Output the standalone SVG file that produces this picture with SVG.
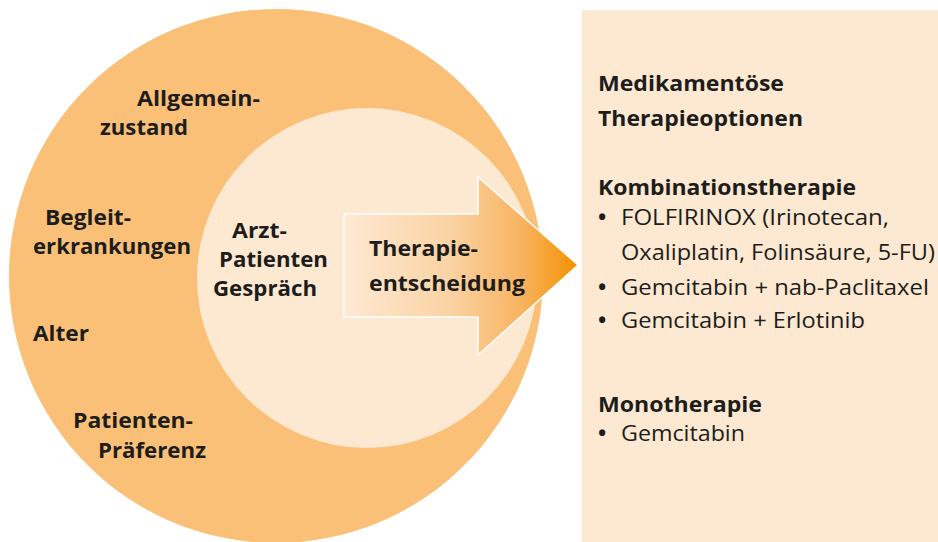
<svg xmlns="http://www.w3.org/2000/svg" width="938" height="542" viewBox="0 0 938 542">
<style>
.b{font-family:"Open Sans","Noto Sans","DejaVu Sans",sans-serif;font-weight:bold;font-size:21.5px;fill:#1d1d1b}
.r{font-family:"Open Sans","Noto Sans","DejaVu Sans",sans-serif;font-size:22px;fill:#1d1d1b}
.d{font-family:"Open Sans","Noto Sans","DejaVu Sans",sans-serif;font-weight:bold;font-size:22px;fill:#1d1d1b}
</style>
<defs>
<linearGradient id="ag" x1="344" y1="0" x2="578" y2="0" gradientUnits="userSpaceOnUse">
<stop offset="0" stop-color="#fde9d2"/>
<stop offset="0.45" stop-color="#fbd3a4"/>
<stop offset="0.75" stop-color="#f8b462"/>
<stop offset="1" stop-color="#f39200"/>
</linearGradient>
</defs>
<rect width="938" height="542" fill="#ffffff"/>
<g id="outer-circle">
<circle cx="276" cy="276" r="267" fill="#fbc078"/>
<text class="b" x="137" y="106" textLength="123" lengthAdjust="spacingAndGlyphs">Allgemein-</text>
<text class="b" x="100" y="135" textLength="88" lengthAdjust="spacingAndGlyphs">zustand</text>
<text class="b" x="45" y="225" textLength="86" lengthAdjust="spacingAndGlyphs">Begleit-</text>
<text class="b" x="33" y="254" textLength="158" lengthAdjust="spacingAndGlyphs">erkrankungen</text>
<text class="b" x="33" y="341" textLength="56" lengthAdjust="spacingAndGlyphs">Alter</text>
<text class="b" x="73" y="428" textLength="120" lengthAdjust="spacingAndGlyphs">Patienten-</text>
<text class="b" x="98" y="458" textLength="108" lengthAdjust="spacingAndGlyphs">Präferenz</text>
</g>
<g id="inner-circle">
<circle cx="367" cy="278" r="170" fill="#fde9d2"/>
<text class="b" x="232" y="238" textLength="55" lengthAdjust="spacingAndGlyphs">Arzt-</text>
<text class="b" x="219" y="267" textLength="109" lengthAdjust="spacingAndGlyphs">Patienten</text>
<text class="b" x="213" y="296" textLength="104" lengthAdjust="spacingAndGlyphs">Gespräch</text>
</g>
<g id="connectors">
<g id="arrow">
<polygon points="344,214 478,214 478,177 578,265 478,355 478,317 344,317" fill="url(#ag)" stroke="#ffffff" stroke-width="1.5"/>
<text class="b" x="369" y="256" textLength="109" lengthAdjust="spacingAndGlyphs">Therapie-</text>
<text class="b" x="369" y="291" textLength="156" lengthAdjust="spacingAndGlyphs">entscheidung</text>
</g>
</g>
<g id="panel">
<rect x="582" y="10" width="356" height="532" fill="#fde9d2"/>
<text class="b" x="598" y="91" textLength="186" lengthAdjust="spacingAndGlyphs">Medikamentöse</text>
<text class="b" x="598" y="126" textLength="205" lengthAdjust="spacingAndGlyphs">Therapieoptionen</text>
<text class="b" x="598" y="195" textLength="258" lengthAdjust="spacingAndGlyphs">Kombinationstherapie</text>
<text class="d" x="598" y="225">•</text>
<text class="r" x="621" y="225" textLength="268" lengthAdjust="spacingAndGlyphs">FOLFIRINOX (Irinotecan,</text>
<text class="r" x="621" y="260" textLength="314" lengthAdjust="spacingAndGlyphs">Oxaliplatin, Folinsäure, 5-FU)</text>
<text class="d" x="598" y="295">•</text>
<text class="r" x="621" y="295" textLength="308" lengthAdjust="spacingAndGlyphs">Gemcitabin + nab-Paclitaxel</text>
<text class="d" x="598" y="328">•</text>
<text class="r" x="621" y="328" textLength="244" lengthAdjust="spacingAndGlyphs">Gemcitabin + Erlotinib</text>
<text class="b" x="598" y="412" textLength="164" lengthAdjust="spacingAndGlyphs">Monotherapie</text>
<text class="d" x="598" y="441">•</text>
<text class="r" x="621" y="441" textLength="124" lengthAdjust="spacingAndGlyphs">Gemcitabin</text>
</g>
</svg>
